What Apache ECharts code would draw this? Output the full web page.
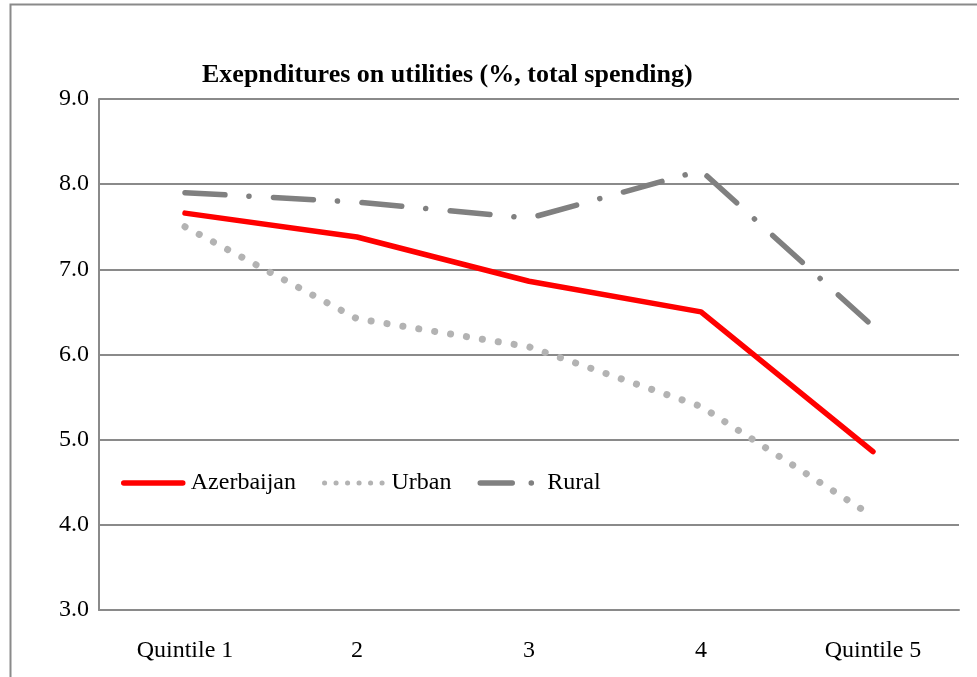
<!DOCTYPE html>
<html>
<head>
<meta charset="utf-8">
<script src="https://cdn.jsdelivr.net/npm/echarts@6/dist/echarts.min.js"></script>
<style>
    html, body { margin: 0; padding: 0; background: #fff; }
    #chart { width: 977px; height: 677px; }
</style>
</head>
<body>
<div id="chart"></div>
<script>
let categories = ['Quintile 1', '2', '3', '4', 'Quintile 5'];
let azerbaijan = [7.66, 7.38, 6.86, 6.50, 4.86];
let urban = [7.50, 6.42, 6.09, 5.39, 4.10];
let rural = [7.90, 7.79, 7.60, 8.16, 6.33];
let yTicks = [3, 9, 1]; // min, max, interval

let font = '"Liberation Serif", "Times New Roman", serif';
let gridColor = '#8a8a8a';

let myChart = echarts.init(document.getElementById('chart'));
let option = {
    backgroundColor: '#fff',
    animation: false,
    title: {
        text: 'Exepnditures on utilities (%, total spending)',
        left: 197,
        top: 57,
        textStyle: {
            fontFamily: font,
            fontSize: 26,
            fontWeight: 'bold',
            color: '#000'
        }
    },
    // outer frame of the chart box
    graphic: [{
        type: 'rect',
        left: 8,
        top: 2,
        shape: { width: 1100, height: 800 },
        style: { fill: 'none', stroke: '#8a8a8a', lineWidth: 2 },
        silent: true
    }],
    legend: {
        left: 121,
        top: 471,
        padding: 0,
        itemWidth: 59,
        itemHeight: 14,
        itemGap: 26,
        // hide the symbol dot, keep the line sample
        itemStyle: { opacity: 0 },
        lineStyle: { width: 'inherit' },
        textStyle: {
            fontFamily: font,
            fontSize: 24,
            color: '#000',
            padding: [0, 0, 0, 3]
        },
        data: [
            'Azerbaijan',
            { name: 'Urban', lineStyle: { width: 5, type: [0.1, 11.4] } },
            { name: 'Rural', lineStyle: { type: [32, 19, 0.1, 30] } }
        ]
    },
    grid: {
        left: 99,
        right: 18,
        top: 99,
        bottom: 67
    },
    xAxis: {
        type: 'category',
        boundaryGap: true,
        data: categories,
        axisLine: { show: true, lineStyle: { color: gridColor, width: 2 } },
        axisTick: { show: false },
        axisLabel: {
            margin: 29,
            fontFamily: font,
            fontSize: 24,
            color: '#000'
        }
    },
    yAxis: {
        type: 'value',
        min: yTicks[0],
        max: yTicks[1],
        interval: yTicks[2],
        axisLine: { show: true, lineStyle: { color: gridColor, width: 2 } },
        axisTick: { show: false },
        axisLabel: {
            margin: 10,
            fontFamily: font,
            fontSize: 24,
            color: '#000',
            formatter: function (v) { return v.toFixed(1); }
        },
        splitLine: {
            show: true,
            lineStyle: { color: gridColor, width: 2 }
        }
    },
    series: [
        {
            name: 'Azerbaijan',
            type: 'line',
            symbol: 'none',
            data: azerbaijan,
            itemStyle: { color: '#ff0000' },
            lineStyle: { color: '#ff0000', width: 5.5, cap: 'round', join: 'round' },
            z: 3
        },
        {
            name: 'Urban',
            type: 'line',
            symbol: 'none',
            data: urban,
            itemStyle: { color: '#b3b3b3' },
            lineStyle: { color: '#b3b3b3', width: 7, type: [0.1, 16], cap: 'round' },
            z: 2
        },
        {
            name: 'Rural',
            type: 'line',
            symbol: 'none',
            data: rural,
            itemStyle: { color: '#808080' },
            lineStyle: { color: '#808080', width: 5.5, type: [40, 24, 0.1, 24.5], cap: 'round' },
            z: 2
        }
    ]
};
myChart.setOption(option);
</script>
</body>
</html>
